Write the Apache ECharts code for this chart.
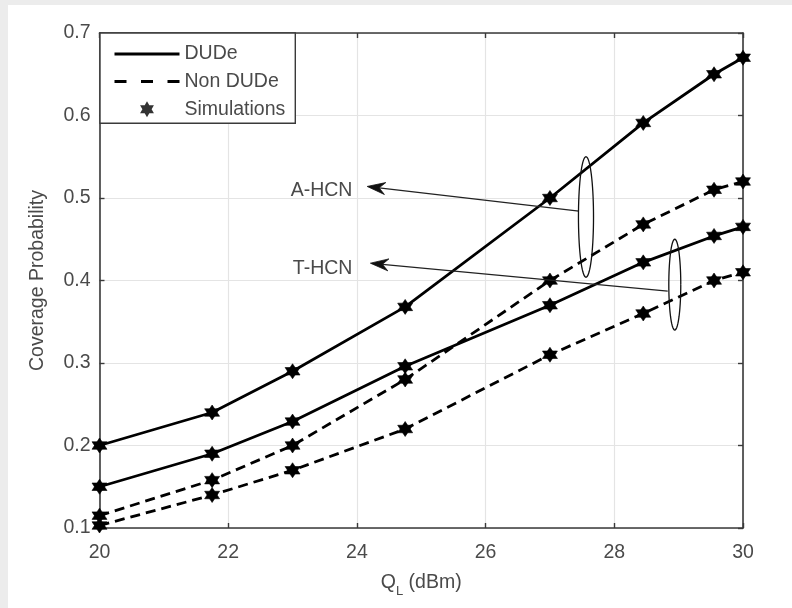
<!DOCTYPE html>
<html>
<head>
<meta charset="utf-8">
<script src="https://cdn.jsdelivr.net/npm/echarts@6/dist/echarts.min.js"></script>
<style>
  html, body { margin: 0; padding: 0; width: 792px; height: 608px; background: #ececec; overflow: hidden; }
  #paper { position: absolute; left: 8px; top: 5px; right: 0; bottom: 0; background: #ffffff; }
  #chart { position: absolute; left: 0; top: 0; width: 792px; height: 608px; }
</style>
</head>
<body>
<div id="paper"></div>
<div id="chart"></div>
<script>
// ---- data ----
const qL = [20, 21.75, 23, 24.75, 27, 28.45, 29.55, 30];
const aHcnDUDe = [0.2, 0.24, 0.29, 0.368, 0.5, 0.591, 0.65, 0.67];
const aHcnNonDUDe = [0.115, 0.158, 0.2, 0.28, 0.4, 0.468, 0.51, 0.52];
const tHcnDUDe = [0.15, 0.19, 0.229, 0.296, 0.37, 0.422, 0.454, 0.465];
const tHcnNonDUDe = [0.103, 0.14, 0.17, 0.22, 0.31, 0.36, 0.40, 0.41];
const legendNames = ['DUDe', 'Non DUDe', 'Simulations'];
const xTicks = { min: 20, max: 30, interval: 2 };
const yTicks = { min: 0.1, max: 0.7, interval: 0.1 };
// annotation anchors (data coordinates)
const annoLabels = ['A-HCN', 'T-HCN'];
const annoTextPos = [[23.93, 0.509], [23.93, 0.414]];
const annoArrowTip = [[24.16, 0.514], [24.21, 0.421]];
const annoArrowTail = [[27.45, 0.484], [28.83, 0.387]];
const annoEllipse = [
  { cx: 27.56, cy: 0.477, rx: 0.117, ry: 0.073 },
  { cx: 28.94, cy: 0.395, rx: 0.093, ry: 0.055 }
];

const HEX = 'path://M0,-10L8.66,5L-8.66,5ZM0,10L-8.66,-5L8.66,-5Z';
const FONT = 'Liberation Sans';
const FS = 19.5;
const TXT = '#4a4a4a';
const AX = '#3a3a3a';

function pts(ys) { return qL.map((x, i) => [x, ys[i]]); }

function curve(name, ys, dashed) {
  return {
    name: name, type: 'line', data: pts(ys),
    symbol: HEX, symbolSize: 15, showSymbol: true,
    itemStyle: { color: '#000', borderColor: '#000', borderWidth: 0.6 },
    lineStyle: { color: '#000', width: 2.8, type: dashed ? [10, 6] : 'solid' },
    emphasis: { disabled: true }, animation: false, z: 3
  };
}

const chart = echarts.init(document.getElementById('chart'), null, { renderer: 'canvas' });

const baseX = {
  type: 'value', min: xTicks.min, max: xTicks.max, interval: xTicks.interval,
  axisLine: { show: true, onZero: false, lineStyle: { color: AX, width: 1.6 } },
  axisTick: { show: true, inside: true, length: 5, lineStyle: { color: AX, width: 1.4 } },
  splitLine: { show: false }
};
const baseY = {
  type: 'value', min: yTicks.min, max: yTicks.max, interval: yTicks.interval,
  axisLine: { show: true, onZero: false, lineStyle: { color: AX, width: 1.6 } },
  axisTick: { show: true, inside: true, length: 5, lineStyle: { color: AX, width: 1.4 } },
  splitLine: { show: false }
};

const option = {
  animation: false,
  textStyle: { fontFamily: FONT },
  grid: { left: 99.5, right: 49, top: 33, bottom: 80, containLabel: false },
  legend: {
    data: [
      { name: legendNames[0], itemStyle: { opacity: 0 } },
      { name: legendNames[1], itemStyle: { opacity: 0 } },
      { name: legendNames[2] }
    ],
    orient: 'vertical', left: 100, top: 33,
    backgroundColor: '#fff', borderColor: AX, borderWidth: 1.4, borderRadius: 0,
    padding: [11, 10, 4, 13],
    itemWidth: 65, itemHeight: 16, itemGap: 7.6,
    lineStyle: { width: 3 },
    textStyle: { fontFamily: FONT, fontSize: FS, color: TXT, lineHeight: 19.5 },
    selectedMode: false
  },
  xAxis: [
    Object.assign({}, baseX, {
      position: 'bottom',
      splitLine: { show: true, lineStyle: { color: '#e4e4e4', width: 1.2 } },
      axisLabel: { show: true, color: TXT, fontSize: FS, fontFamily: FONT, margin: 15 },
      name: '{q|Q}{s|L}{q| (dBm)}', nameLocation: 'middle', nameGap: 45,
      nameTextStyle: {
        rich: {
          q: { fontSize: FS, fontFamily: FONT, color: TXT, verticalAlign: 'top' },
          s: { fontSize: 13, fontFamily: FONT, color: TXT, verticalAlign: 'top', padding: [12, 0, 0, 0] }
        }
      }
    }),
    Object.assign({}, baseX, { position: 'top', axisLabel: { show: false } })
  ],
  yAxis: [
    Object.assign({}, baseY, {
      position: 'left',
      splitLine: { show: true, lineStyle: { color: '#e4e4e4', width: 1.2 } },
      axisLabel: { show: true, color: TXT, fontSize: FS, fontFamily: FONT, margin: 9,
        formatter: v => v.toFixed(1) },
      name: 'Coverage Probability', nameLocation: 'middle', nameGap: 52, nameRotate: 90,
      nameTextStyle: { fontSize: FS, fontFamily: FONT, color: TXT }
    }),
    Object.assign({}, baseY, { position: 'right', axisLabel: { show: false } })
  ],
  series: [
    // legend-only entries
    { name: 'DUDe', type: 'line', data: [], symbol: 'none',
      lineStyle: { color: '#000', width: 2.8 }, itemStyle: { color: '#000' } },
    { name: 'Non DUDe', type: 'line', data: [], symbol: 'none',
      lineStyle: { color: '#000', width: 2.8, type: [12, 14.5] }, itemStyle: { color: '#000' } },
    { name: 'Simulations', type: 'scatter', data: [], symbol: HEX, symbolSize: 15,
      itemStyle: { color: '#000' } },
    // data curves
    curve('A-HCN DUDe', aHcnDUDe, false),
    curve('A-HCN Non DUDe', aHcnNonDUDe, true),
    curve('T-HCN DUDe', tHcnDUDe, false),
    curve('T-HCN Non DUDe', tHcnNonDUDe, true)
  ]
};
chart.setOption(option);

// annotations via the grid's own coordinate conversion
function toPx(p) { return chart.convertToPixel({ gridIndex: 0 }, p); }
const graphics = [];
for (let k = 0; k < annoLabels.length; k++) {
  const tp = toPx(annoTextPos[k]);
  graphics.push({ type: 'text', x: tp[0], y: tp[1], z: 10,
    style: { text: annoLabels[k], font: FS + 'px ' + FONT, fill: TXT, align: 'right', verticalAlign: 'middle' } });
  const tip = toPx(annoArrowTip[k]);
  const tail = toPx(annoArrowTail[k]);
  const dx = tail[0] - tip[0], dy = tail[1] - tip[1];
  const L = Math.hypot(dx, dy), ux = dx / L, uy = dy / L, nx = -uy, ny = ux;
  const hl = 18, hw = 6, notch = 12;
  graphics.push({ type: 'line', z: 10,
    shape: { x1: tip[0] + ux * notch, y1: tip[1] + uy * notch, x2: tail[0], y2: tail[1] },
    style: { stroke: '#222', lineWidth: 1.3 } });
  graphics.push({ type: 'polygon', z: 10,
    shape: { points: [
      [tip[0], tip[1]],
      [tip[0] + ux * hl + nx * hw, tip[1] + uy * hl + ny * hw],
      [tip[0] + ux * notch, tip[1] + uy * notch],
      [tip[0] + ux * hl - nx * hw, tip[1] + uy * hl - ny * hw]
    ] },
    style: { fill: '#111', stroke: '#111', lineWidth: 0.8 } });
  const e = annoEllipse[k];
  const c = toPx([e.cx, e.cy]);
  const ex = toPx([e.cx + e.rx, e.cy]);
  const ey = toPx([e.cx, e.cy + e.ry]);
  const rxp = Math.abs(ex[0] - c[0]), ryp = Math.abs(ey[1] - c[1]);
  const ring = [];
  for (let i = 0; i <= 72; i++) {
    const t = i / 72 * Math.PI * 2;
    ring.push([c[0] + rxp * Math.cos(t), c[1] + ryp * Math.sin(t)]);
  }
  graphics.push({ type: 'polyline', z: 10, shape: { points: ring },
    style: { stroke: '#111', lineWidth: 1.3, fill: null } });
}
chart.setOption({ graphic: graphics });
</script>
</body>
</html>
